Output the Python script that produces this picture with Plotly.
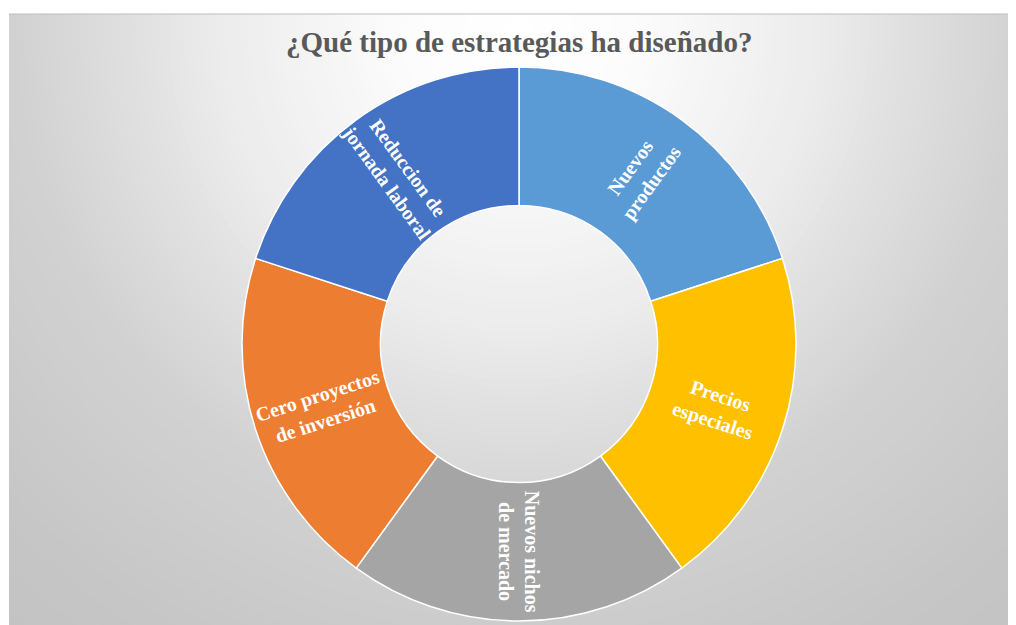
import plotly.graph_objects as go
import numpy as np

# ---- data ----
categories = [
    "Nuevos productos",
    "Precios especiales",
    "Nuevos nichos de mercado",
    "Cero proyectos de inversión",
    "Reduccion de jornada laboral",
]
display_labels = [
    "Nuevos<br>productos",
    "Precios<br>especiales",
    "Nuevos nichos<br>de mercado",
    "Cero proyectos<br>de inversión",
    "Reduccion de<br>jornada laboral",
]
values = [1, 1, 1, 1, 1]
colors = ["#5B9BD5", "#FFC000", "#A5A5A5", "#ED7D31", "#4472C4"]
title_text = "¿Qué tipo de estrategias ha diseñado?"

W, H = 1016, 625
OFF = 8  # page body margin offset

# ---- background radial gradient (approximated with concentric circles) ----
gcx, gcy = 519 - OFF, 30 - OFF
stops_d = [0, 120, 300, 500, 700, 950]
stops_c = [255, 252, 236, 210, 198, 190]
shapes = []
for r in range(950, 0, -8):
    c = int(round(np.interp(r, stops_d, stops_c)))
    col = f"rgb({c},{c},{c})"
    shapes.append(dict(
        type="circle", xref="paper", yref="paper", layer="below",
        x0=(gcx - r) / W, x1=(gcx + r) / W,
        y0=(H - gcy - r) / H, y1=(H - gcy + r) / H,
        fillcolor=col, line=dict(width=0),
    ))
box_left, box_top = 9 - OFF, 14 - OFF
shapes.append(dict(type="rect", xref="paper", yref="paper", layer="below",
                   x0=0, x1=box_left / W, y0=0, y1=1,
                   fillcolor="white", line=dict(width=0)))
shapes.append(dict(type="rect", xref="paper", yref="paper", layer="below",
                   x0=0, x1=1, y0=(H - box_top) / H, y1=1,
                   fillcolor="white", line=dict(width=0)))
shapes.append(dict(type="line", xref="paper", yref="paper", layer="below",
                   x0=box_left / W, x1=1, y0=(H - box_top) / H, y1=(H - box_top) / H,
                   line=dict(color="#BDBDBD", width=1)))

# ---- pie geometry ----
cx, cy, R = 519 - OFF, 344 - OFF, 277
hole = 0.5
dom_x = [(cx - R) / W, (cx + R) / W]
dom_y = [(H - cy - R) / H, (H - cy + R) / H]

fig = go.Figure(go.Pie(
    labels=categories,
    values=values,
    textinfo="none",
    hole=hole,
    sort=False,
    direction="clockwise",
    rotation=0,
    marker=dict(colors=colors, line=dict(color="white", width=1.5)),
    domain=dict(x=dom_x, y=dom_y),
    showlegend=False,
    hoverinfo="label",
))

# ---- radial slice labels as annotations, placed from the slice angles ----
annotations = []
total = float(sum(values))
cum = 0.0
r_lab = R * (1 + hole) / 2
for v, lab in zip(values, display_labels):
    mid = (cum + v / 2) / total * 360.0
    cum += v
    th = np.radians(mid)
    px = cx + r_lab * np.sin(th)
    py = cy - r_lab * np.cos(th)
    ang = mid - 90
    if ang > 90:
        ang -= 180
    annotations.append(dict(
        text=lab, xref="paper", yref="paper",
        x=px / W, y=(H - py) / H, xanchor="center", yanchor="middle",
        textangle=ang, showarrow=False,
        font=dict(family="Liberation Serif", size=20, color="white", weight="bold"),
    ))

annotations.append(dict(
    text=title_text, xref="paper", yref="paper",
    x=cx / W, y=(H - (42 - OFF)) / H, xanchor="center", yanchor="middle",
    showarrow=False,
    font=dict(family="Liberation Serif", size=29, color="#595959", weight="bold"),
))

fig.update_layout(
    width=W, height=H,
    margin=dict(l=0, r=0, t=0, b=0),
    paper_bgcolor="white",
    shapes=shapes,
    annotations=annotations,
)

fig.write_html("out.html")
